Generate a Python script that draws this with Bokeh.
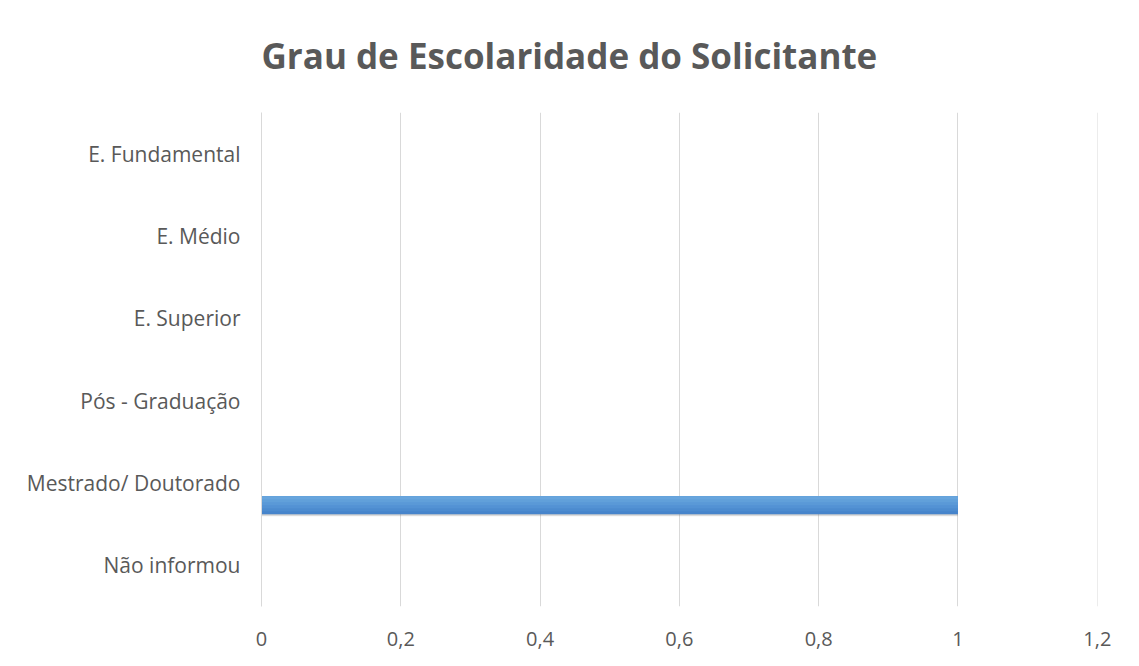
from bokeh.plotting import figure
from bokeh.models import FactorRange, Range1d, ColumnDataSource
from bokeh.transform import dodge
from bokeh.embed import file_html
from bokeh.resources import INLINE

title_text = "Grau de Escolaridade do Solicitante"
categories = ["E. Fundamental", "E. Médio", "E. Superior", "Pós - Graduação",
              "Mestrado/ Doutorado", "Não informou"]
values = [0, 0, 0, 0, 1, 0]
x_ticks = [0, 0.2, 0.4, 0.6, 0.8, 1, 1.2]
x_tick_labels = ["0", "0,2", "0,4", "0,6", "0,8", "1", "1,2"]

src = ColumnDataSource(dict(cat=categories, val=values))

p = figure(width=1123, height=650, output_backend="svg", toolbar_location=None,
           y_range=FactorRange(factors=list(reversed(categories))),
           x_range=Range1d(0, 1.2003), title=title_text,
           min_border_left=261, min_border_right=26, min_border_top=112, min_border_bottom=44)

p.title.align = "left"
p.title.vertical_align = "top"
p.title.text_font = "Open Sans"
p.title.text_font_size = "35px"
p.title.text_font_style = "bold"
p.title.text_color = "#595959"
p.title.standoff = 63
p.title.offset = 0

p.outline_line_color = None
p.background_fill_color = "white"
p.border_fill_color = "white"

# soft shadow under the bar
p.hbar(y=dodge("cat", -0.295, range=p.y_range), right="val", left=0, height=0.22,
       source=src, fill_color="#7f7f7f", fill_alpha=0.18, line_color=None)
p.hbar(y=dodge("cat", -0.285, range=p.y_range), right="val", left=0, height=0.22,
       source=src, fill_color="#7f7f7f", fill_alpha=0.25, line_color=None)
# gradient: darkest full bar, then lighter bands anchored at the top
band_colors = ["#4684cb", "#4c8bcf", "#5392d4", "#5a99d7", "#61a0da", "#68a5dd"]
bar_h = 0.22
top = -0.27 + bar_h / 2
for i, c in enumerate(band_colors):
    h = bar_h * (1 - i / len(band_colors))
    p.hbar(y=dodge("cat", top - h / 2, range=p.y_range), right="val", left=0, height=h,
           source=src, fill_color=c, line_color=None)

p.xgrid.grid_line_color = "#d9d9d9"
p.ygrid.grid_line_color = None

p.xaxis.ticker = x_ticks
p.xaxis.major_label_overrides = dict(zip(x_ticks, x_tick_labels))
p.xaxis.axis_line_color = None
p.xaxis.major_tick_line_color = None
p.xaxis.minor_tick_line_color = None
p.xaxis.major_tick_out = 0
p.xaxis.major_label_standoff = 25
p.xaxis.major_label_text_font = "Open Sans"
p.xaxis.major_label_text_font_size = "20px"
p.xaxis.major_label_text_color = "#595959"

p.yaxis.axis_line_color = "#d9d9d9"
p.yaxis.major_tick_line_color = None
p.yaxis.minor_tick_line_color = None
p.yaxis.major_tick_out = 0
p.yaxis.major_label_standoff = 21
p.yaxis.major_label_text_font = "Open Sans"
p.yaxis.major_label_text_font_size = "21px"
p.yaxis.major_label_text_color = "#595959"

open("out.html", "w").write(file_html(p, INLINE))
